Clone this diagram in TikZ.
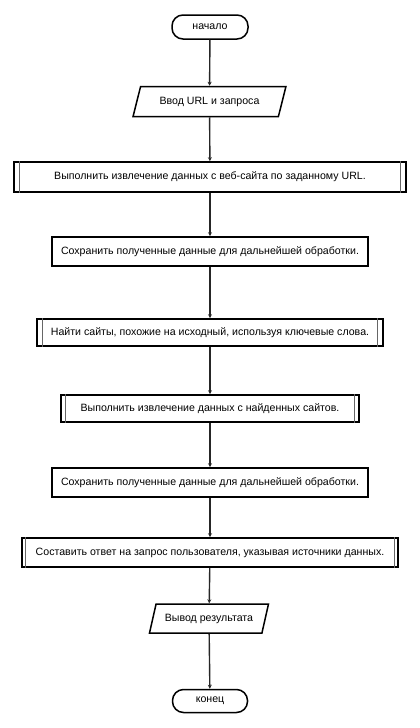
\documentclass[tikz,border=0pt]{standalone}
\usepackage{fontspec}
\setmainfont{Liberation Sans}
\usetikzlibrary{shapes.geometric,arrows.meta}
\begin{document}
\begin{tikzpicture}[x=1pt,y=-1pt,
  every node/.style={font=\fontsize{10.6}{13}\selectfont, inner sep=0pt},
  term/.style={draw=black, line width=1.5pt, rectangle, rounded corners=11pt, minimum width=76pt, minimum height=24pt, fill=white},
  io/.style={draw=black, line width=1.5pt, trapezium, trapezium left angle=60, trapezium right angle=120, trapezium stretches=true, fill=white},
  proc/.style={draw=black, line width=1.6pt, rectangle, fill=white},
  pred/.style={draw=black, line width=1.6pt, rectangle, fill=white},
  inner/.style={draw=black!60, line width=1.1pt},
  flow/.style={draw=black!85, line width=1.4pt, -{Stealth[length=4pt,width=4pt]}}
]
\useasboundingbox[fill=white] (0,0) rectangle (420,728);
\node[term] (start) at (210,27) {начало};
\node[io, minimum width=153pt, minimum height=30pt] (io1) at (209.5,101.5) {Ввод URL и запроса};
\node[pred, minimum width=392pt, minimum height=30pt] (b1) at (210,177) {Выполнить извлечение данных с веб-сайта по заданному URL.};
\node[proc, minimum width=316pt, minimum height=29pt] (b2) at (210,251.5) {Сохранить полученные данные для дальнейшей обработки.};
\node[pred, minimum width=346pt, minimum height=27pt] (b3) at (210,332.5) {Найти сайты, похожие на исходный, используя ключевые слова.};
\node[pred, minimum width=298pt, minimum height=27pt] (b4) at (210,408.5) {Выполнить извлечение данных с найденных сайтов.};
\node[proc, minimum width=316pt, minimum height=29pt] (b5) at (210,482.5) {Сохранить полученные данные для дальнейшей обработки.};
\node[pred, minimum width=376pt, minimum height=29pt] (b6) at (210,552.5) {Составить ответ на запрос пользователя, указывая источники данных.};
\node[io, minimum width=120pt, minimum height=29pt] (io2) at (209,618.5) {Вывод результата};
\node[term, minimum width=75pt, minimum height=23pt] (end) at (210,701) {конец};
\foreach \b/\d in {b1/6.5,b3/6.5,b4/5,b6/4.5}{
  \draw[inner] ([xshift=\d pt]\b.north west) -- ([xshift=\d pt]\b.south west);
  \draw[inner] ([xshift=-\d pt]\b.north east) -- ([xshift=-\d pt]\b.south east);
}
\draw[flow] (start) -- (io1);
\draw[flow] (io1) -- (b1);
\draw[flow] (b1) -- (b2);
\draw[flow] (b2) -- (b3);
\draw[flow] (b3) -- (b4);
\draw[flow] (b4) -- (b5);
\draw[flow] (b5) -- (b6);
\draw[flow] (b6) -- (io2);
\draw[flow] (io2) -- (end);
\end{tikzpicture}
\end{document}
